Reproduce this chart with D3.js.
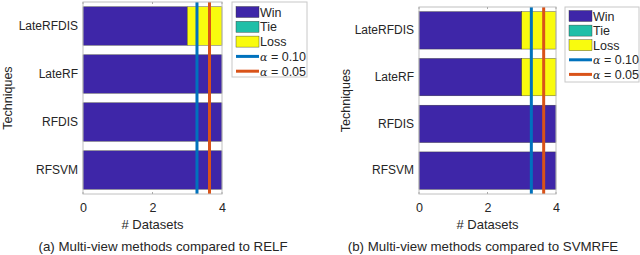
<!DOCTYPE html>
<html><head><meta charset="utf-8">
<script src="https://cdn.jsdelivr.net/npm/d3@7"></script>
<style>
body{margin:0;background:#fff;}
text{font-family:"Liberation Sans",Arial,sans-serif;fill:#262626;}
</style></head>
<body><svg id="c" width="640" height="255"></svg>
<script>
const categories = ["LateRFDIS","LateRF","RFDIS","RFSVM"];
const seriesNames = ["Win","Tie","Loss"];
const winA = [3,4,4,4];
const tieA = [0,0,0,0];
const lossA = [1,0,0,0];
const winB = [3,3,4,4];
const tieB = [0,0,0,0];
const lossB = [1,1,0,0];
const alphaLabels = ["\u03B1 = 0.10","\u03B1 = 0.05"];
const alphaValues = [3.28,3.64];
const xTicks = [0,2,4];
const captions = ["(a) Multi-view methods compared to RELF","(b) Multi-view methods compared to SVMRFE"];

const colors = {Win:"#3e26a8",Tie:"#1fbfa8",Loss:"#f9fb0e"};
const lineColors = ["#0072bd","#d95319"];

const svg = d3.select("#c");

function panel(opt){
  const g = svg.append("g");
  const x = d3.scaleLinear().domain([0,4]).range([opt.x0,opt.x1]);
  const y = d3.scaleBand().domain(categories).range([opt.y0,opt.y1]).paddingInner(0.2).paddingOuter(0.1);
  const rows = categories.map((c,i)=>({cat:c,Win:opt.win[i],Tie:opt.tie[i],Loss:opt.loss[i]}));
  const stack = d3.stack().keys(seriesNames)(rows);
  g.append("rect").attr("x",opt.x0).attr("y",opt.y0).attr("width",opt.x1-opt.x0).attr("height",opt.y1-opt.y0).attr("fill","#fff");
  stack.forEach(s=>{
    g.selectAll(null).data(s.filter(d=>d[1]>d[0])).enter().append("rect")
      .attr("x",d=>x(d[0])).attr("width",d=>x(d[1])-x(d[0]))
      .attr("y",d=>y(d.data.cat)).attr("height",y.bandwidth())
      .attr("fill",colors[s.key]).attr("stroke","#333").attr("stroke-width",0.4);
  });
  alphaValues.forEach((v,i)=>{
    g.append("line").attr("x1",x(v)).attr("x2",x(v)).attr("y1",opt.y0).attr("y2",opt.y1)
      .attr("stroke",lineColors[i]).attr("stroke-width",3);
  });
  g.append("rect").attr("x",opt.x0).attr("y",opt.y0).attr("width",opt.x1-opt.x0).attr("height",opt.y1-opt.y0)
    .attr("fill","none").attr("stroke","#c0c0c0").attr("stroke-width",1);
  const ax = g.append("g").attr("transform",`translate(0,${opt.y1})`)
    .call(d3.axisBottom(x).tickValues(xTicks).tickFormat(d3.format("d")).tickSize(0).tickPadding(9));
  ax.select(".domain").remove();
  ax.selectAll("text").attr("font-size",12.5).style("font-family","Liberation Sans, Arial, sans-serif").attr("fill","#262626");
  xTicks.forEach(t=>{
    g.append("line").attr("x1",x(t)).attr("x2",x(t)).attr("y1",opt.y0).attr("y2",opt.y0+2).attr("stroke","#aaa");
    g.append("line").attr("x1",x(t)).attr("x2",x(t)).attr("y1",opt.y1).attr("y2",opt.y1-2).attr("stroke","#aaa");
  });
  const ay = g.append("g").attr("transform",`translate(${opt.x0},0)`).call(d3.axisLeft(y).tickSize(0).tickPadding(5));
  ay.select(".domain").remove();
  ay.selectAll("text").attr("font-size",12).style("font-family","Liberation Sans, Arial, sans-serif").attr("fill","#262626");
  g.append("text").attr("x",(opt.x0+opt.x1)/2).attr("y",opt.y1+35).attr("text-anchor","middle").attr("font-size",13).text("# Datasets");
  g.append("text").attr("transform",`translate(${opt.ylx},${(opt.y0+opt.y1)/2}) rotate(-90)`).attr("text-anchor","middle").attr("font-size",12.5).text("Techniques");
  g.append("text").attr("x",opt.capx).attr("y",251).attr("text-anchor","middle").attr("font-size",13.3).text(opt.caption);
  const L = opt.leg;
  g.append("rect").attr("x",L.x).attr("y",L.y).attr("width",L.w).attr("height",L.h).attr("fill","#fff").attr("stroke","#c8c8c8");
  seriesNames.forEach((s,i)=>{
    const cy = L.y+L.r0+i*L.dy;
    g.append("rect").attr("x",L.x+4).attr("y",cy-5.5).attr("width",23).attr("height",11).attr("fill",colors[s]).attr("stroke","#333").attr("stroke-width",0.4);
    g.append("text").attr("x",L.x+28).attr("y",cy+4.5).attr("font-size",12.5).text(s);
  });
  alphaLabels.forEach((s,i)=>{
    const cy = L.y+L.r0+(i+3)*L.dy;
    g.append("line").attr("x1",L.x+4).attr("x2",L.x+27).attr("y1",cy).attr("y2",cy).attr("stroke",lineColors[i]).attr("stroke-width",3);
    const t = g.append("text").attr("x",L.x+28).attr("y",cy+4.5).attr("font-size",12.5);
    t.append("tspan").style("font-family","DejaVu Serif, serif").style("font-style","italic").attr("font-size",11).text("\u03B1");
    t.append("tspan").text(s.slice(1));
  });
}

panel({x0:83,x1:222,y0:2,y1:194,win:winA,tie:tieA,loss:lossA,ylx:12,capx:163,caption:captions[0],
  leg:{x:232,y:2,w:75,h:75,r0:10,dy:14.8}});
panel({x0:419,x1:556,y0:7,y1:194,win:winB,tie:tieB,loss:lossB,ylx:350,capx:483,caption:captions[1],
  leg:{x:565,y:7,w:74,h:75,r0:9,dy:14.6}});
</script></body></html>
